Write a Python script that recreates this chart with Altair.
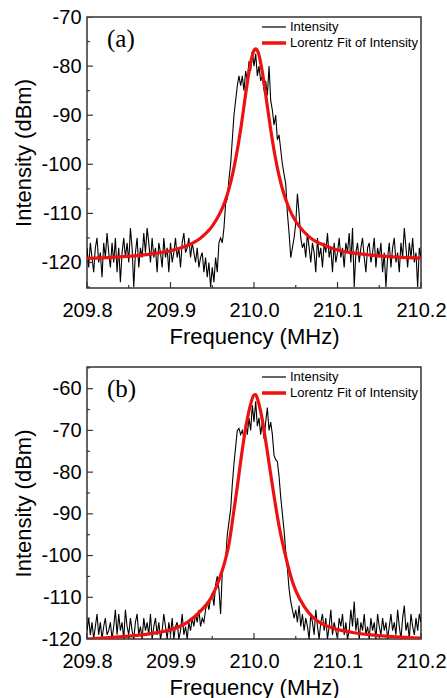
import altair as alt
import pandas as pd

SERIES = ["Intensity", "Lorentz Fit of Intensity"]
SERIES_COLORS = ["#000000", "#ee1111"]
PANEL_TAGS = ["(a)", "(b)"]

FREQ_START = 209.8
FREQ_STEP = 0.002
X_MAJOR = [209.8, 209.9, 210.0, 210.1, 210.2]
X_MINOR = [209.85, 209.95, 210.05, 210.15]

# measured spectrum, panel (a): 201 samples, 209.800 .. 210.200 MHz
INTENSITY_A = [
    -117, -121, -116, -119, -122, -117, -115, -120, -118, -123,
    -116, -119, -114, -118, -121, -116, -120, -115, -122, -117,
    -124, -118, -115, -119, -116, -120, -113, -117, -125, -118,
    -115, -121, -117, -119, -114, -118, -113, -116, -120, -115,
    -119, -117, -122, -116, -118, -121, -115, -119, -117, -122,
    -116, -120, -118, -115, -119, -117, -121, -116, -114, -118,
    -117, -115, -119, -116, -118, -120, -117, -121, -119, -118,
    -122, -119, -123, -120, -125, -121, -124, -119, -122, -116,
    -115, -116, -113, -108, -107, -103, -100, -95, -90, -87,
    -84, -82, -84, -82, -85, -81, -83, -79, -81, -77,
    -80, -77.5, -82, -80, -83, -82, -85, -83, -86, -80,
    -87, -89, -92, -90, -95, -94, -97, -100, -102, -104,
    -110, -114, -119, -117, -115, -112, -106, -110, -115, -117,
    -116, -119, -114, -117, -120, -116, -118, -122, -115, -119,
    -117, -121, -116, -118, -114, -119, -117, -122, -116, -120,
    -118, -115, -119, -117, -121, -116, -118, -114, -120, -113,
    -125, -118, -116, -120, -117, -115, -119, -122, -117, -116,
    -120, -118, -115, -121, -117, -119, -116, -122, -118, -125,
    -119, -116, -121, -117, -115, -120, -118, -122, -116, -119,
    -113, -117, -121, -116, -119, -115, -120, -118, -125, -117,
    -119,
]

# measured spectrum, panel (b)
INTENSITY_B = [
    -118, -115, -119, -116, -120, -117, -114, -119, -116, -120,
    -117, -115, -119, -118, -116, -120, -117, -113, -119, -114,
    -118, -116, -120, -113, -117, -119, -115, -118, -120, -116,
    -114, -119, -117, -120, -115, -118, -116, -119, -114, -120,
    -117, -115, -119, -116, -120, -118, -114, -117, -120, -116,
    -119, -115, -120, -117, -116, -120, -118, -114, -119, -117,
    -120, -116, -118, -115, -117, -114, -116, -113, -117, -115,
    -116, -113, -111, -113, -110, -109, -112, -107, -105, -108,
    -114, -104, -102, -101, -95, -92, -89, -83, -78, -74,
    -70, -69.5, -71, -70, -72, -68, -71, -67, -70, -64,
    -68, -63, -69, -67, -71, -68, -72, -68, -64.5, -70,
    -68, -71, -76, -77, -77.5, -81, -86, -90, -94, -99,
    -103, -108, -111, -113, -115, -113, -116, -112, -117, -114,
    -118, -115, -117, -120, -114, -116, -119, -113, -117, -120,
    -116, -114, -118, -115, -120, -117, -113, -119, -116, -118,
    -120, -115, -117, -114, -119, -116, -120, -118, -113, -117,
    -111, -118, -115, -120, -116, -118, -114, -119, -117, -120,
    -115, -118, -116, -120, -114, -117, -119, -115, -118, -116,
    -120, -117, -114, -118, -116, -119, -113, -117, -120, -115,
    -112, -118, -116, -120, -114, -117, -119, -115, -118, -114,
    -116,
]

# Lorentz fit curves
FIT_FREQ = [209.80, 209.83, 209.86, 209.88, 209.90, 209.92, 209.935, 209.95,
            209.96, 209.965, 209.97, 209.975, 209.98, 209.985, 209.99, 209.995,
            210.0, 210.002, 210.005, 210.01, 210.015, 210.02, 210.025, 210.03,
            210.035, 210.04, 210.045, 210.05, 210.06, 210.07, 210.08, 210.10,
            210.12, 210.14, 210.17, 210.20]
FIT_A = [-119.15, -118.95, -118.6, -118.2, -117.6, -116.55, -115.15, -112.6,
         -109.7, -107.7, -105.0, -101.5, -97.1, -91.8, -85.7, -80.2,
         -76.8, -76.5, -77.2, -81.2, -87.0, -92.9, -98.1, -102.3,
         -105.6, -108.1, -110.1, -111.6, -113.8, -115.3, -116.2, -117.45,
         -118.1, -118.5, -118.9, -119.1]
FIT_B = [-120.0, -119.6, -119.15, -118.6, -117.8, -116.0, -113.5, -109.7,
         -104.8, -101.5, -97.3, -90.5, -83.5, -76.0, -69.5, -64.5,
         -61.5, -61.4, -63.0, -67.5, -73.8, -80.5, -87.0, -92.9,
         -97.7, -101.9, -105.6, -108.4, -112.2, -114.7, -116.2, -117.7,
         -118.5, -119.0, -119.5, -119.8]

Y_DOMAIN_A = [-125.2, -70]
Y_MAJOR_A = [-70, -80, -90, -100, -110, -120]
Y_MINOR_A = [-75, -85, -95, -105, -115, -125]
Y_DOMAIN_B = [-120, -54.8]
Y_MAJOR_B = [-60, -70, -80, -90, -100, -110, -120]
Y_MINOR_B = [-55, -65, -75, -85, -95, -105, -115]

W = 334
FONT = "Liberation Sans"
TICK_COLOR = "#333333"
HYPHEN_LABEL = "datum.value < 0 ? '-' + abs(datum.value) : '' + datum.value"


def make_panel(meas, fit, ydom, ymajor, yminor, tag, H):
    freq = [round(FREQ_START + FREQ_STEP * i, 3) for i in range(len(meas))]
    meas_df = pd.DataFrame({"f": freq, "v": meas, "s": SERIES[0]})
    fit_df = pd.DataFrame({"f": FIT_FREQ, "v": fit, "s": SERIES[1]})
    xs = alt.Scale(domain=[209.8, 210.2], nice=False, zero=False)
    ys = alt.Scale(domain=ydom, nice=False, zero=False)
    cs = alt.Scale(domain=SERIES, range=SERIES_COLORS)
    xax = alt.Axis(values=X_MAJOR, format=".1f", title="Frequency (MHz)",
                   ticks=False, tickSize=0, domain=False, grid=False,
                   labelFlush=False, labelPadding=12, titlePadding=6)
    yax = alt.Axis(values=ymajor, title="Intensity (dBm)", ticks=False,
                   tickSize=0, domain=False, grid=False, labelPadding=6,
                   labelFlush=False, titlePadding=5, labelExpr=HYPHEN_LABEL)
    X = alt.X("f:Q", scale=xs, axis=xax)
    Y = alt.Y("v:Q", scale=ys, axis=yax)

    meas_line = alt.Chart(meas_df).mark_line(strokeWidth=1.1, clip=True).encode(
        x=X, y=Y, color=alt.Color("s:N", scale=cs, legend=None),
    )
    fit_line = alt.Chart(fit_df).mark_line(
        strokeWidth=3.2, interpolate="monotone", clip=True
    ).encode(x=X, y=Y, color=alt.Color("s:N", scale=cs, legend=None))

    tick_layers = []
    for vals, ln in ((ymajor, 6), (yminor, 3)):
        tick_layers.append(
            alt.Chart(pd.DataFrame({"v": vals})).mark_rule(
                color=TICK_COLOR, strokeWidth=1.2, clip=True
            ).encode(y=Y, x=alt.value(0), x2=alt.value(ln))
        )
    for vals, ln in ((X_MAJOR, 6), (X_MINOR, 3)):
        tick_layers.append(
            alt.Chart(pd.DataFrame({"f": vals})).mark_rule(
                color=TICK_COLOR, strokeWidth=1.2
            ).encode(x=X, y=alt.value(H), y2=alt.value(H - ln))
        )

    legend_layers = []
    for i, (name, col, w) in enumerate(zip(SERIES, SERIES_COLORS, [1.2, 3.5])):
        d = pd.DataFrame({"s": [name]})
        legend_layers.append(
            alt.Chart(d).mark_rule(color=col, strokeWidth=w).encode(
                x=alt.value(175), x2=alt.value(199), y=alt.value(10 + 16 * i)
            )
        )
        legend_layers.append(
            alt.Chart(d).mark_text(
                align="left", baseline="middle", font=FONT, fontSize=13, color="#000000"
            ).encode(x=alt.value(203), y=alt.value(10 + 16 * i), text="s:N")
        )

    tag_layer = alt.Chart(pd.DataFrame({"t": [tag]})).mark_text(
        align="left", baseline="middle", font="Liberation Serif", fontSize=25,
        color="#000000"
    ).encode(x=alt.value(20), y=alt.value(22), text="t:N")

    return alt.layer(meas_line, fit_line, *tick_layers, *legend_layers, tag_layer).properties(
        width=W, height=H
    )


panel_a = make_panel(INTENSITY_A, FIT_A, Y_DOMAIN_A, Y_MAJOR_A, Y_MINOR_A, PANEL_TAGS[0], 271)
panel_b = make_panel(INTENSITY_B, FIT_B, Y_DOMAIN_B, Y_MAJOR_B, Y_MINOR_B, PANEL_TAGS[1], 272)

chart = (
    alt.vconcat(panel_a, panel_b, spacing=18)
    .resolve_scale(y="independent", color="independent")
    .properties(padding={"left": 12, "top": 6, "right": 0, "bottom": 0})
    .configure_view(stroke="#333333", strokeWidth=1.5)
    .configure_axis(
        labelFont=FONT, labelFontSize=20, labelColor="#000000",
        titleFont=FONT, titleFontSize=22, titleColor="#000000",
        titleFontWeight="normal",
    )
)

chart.save("out.html", embed_options={"renderer": "svg", "actions": False})
